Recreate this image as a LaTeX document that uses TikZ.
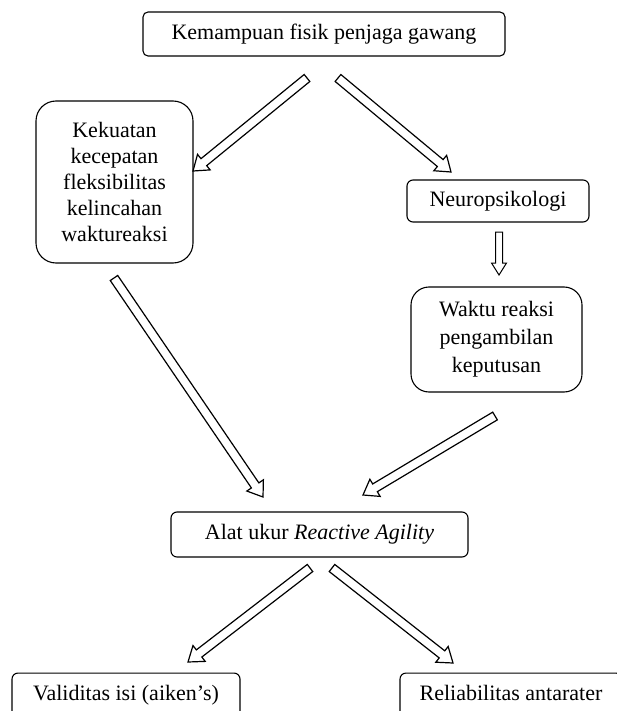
\documentclass[tikz,border=0pt]{standalone}
\usepackage{fontspec}
\setmainfont{Liberation Serif}
\usetikzlibrary{calc}
\tikzset{
  box/.style={draw, line width=1.1pt, fill=white, align=center, inner sep=0pt,
    font=\fontsize{22}{26}\selectfont},
  arrowline/.style={draw, line width=1.2pt, fill=white, line join=miter},
}
\newcommand\blockarr[2]{%
  \coordinate (hb) at ($(#2)!14pt!(#1)$);
  \draw[arrowline] ($(#1)!4.5pt!90:(#2)$) -- ($(hb)!4.5pt!90:(#2)$) -- ($(hb)!10pt!90:(#2)$)
    -- (#2) -- ($(hb)!10pt!-90:(#2)$) -- ($(hb)!4.5pt!-90:(#2)$) -- ($(#1)!4.5pt!-90:(#2)$) -- cycle;
}
\newcommand\smallarr[2]{%
  \coordinate (hb) at ($(#2)!12pt!(#1)$);
  \draw[arrowline, line width=1pt] ($(#1)!3.5pt!90:(#2)$) -- ($(hb)!3.5pt!90:(#2)$) -- ($(hb)!7.5pt!90:(#2)$)
    -- (#2) -- ($(hb)!7.5pt!-90:(#2)$) -- ($(hb)!3.5pt!-90:(#2)$) -- ($(#1)!3.5pt!-90:(#2)$) -- cycle;
}
\begin{document}
\begin{tikzpicture}[x=1pt, y=-1pt]
\useasboundingbox (0,0) rectangle (617,711);
\clip (0,0) rectangle (617,711);
\fill[white] (0,0) rectangle (617,711);

\node[box, rounded corners=5pt, minimum width=362pt, minimum height=44pt] (top) at (324,34)
  {Kemampuan fisik penjaga gawang};
\node[box, rounded corners=20pt, minimum width=157pt, minimum height=162pt] (left) at (114.5,182)
  {Kekuatan\\kecepatan\\fleksibilitas\\kelincahan\\waktureaksi};
\node[box, rounded corners=6pt, minimum width=182pt, minimum height=42pt] (neuro) at (498,201)
  {Neuropsikologi};
\node[box, rounded corners=18pt, minimum width=171pt, minimum height=105pt,
  font=\fontsize{22}{28}\selectfont] (waktu) at (496.5,339.5)
  {Waktu reaksi\\pengambilan\\keputusan};
\node[box, rounded corners=6pt, minimum width=297pt, minimum height=45pt] (alat) at (319.5,534.5)
  {Alat ukur \textit{Reactive Agility}};
\node[box, rounded corners=6pt, anchor=north, minimum width=228pt, text height=27pt, text depth=30pt] (valid) at (126,672.5)
  {Validitas isi (aiken's)};
\node[box, rounded corners=6pt, anchor=north, minimum width=222pt, text height=27pt, text depth=30pt] (reli) at (511,672.5)
  {Reliabilitas antarater};

\coordinate (a1s) at (307,78);  \coordinate (a1e) at (193,171);
\coordinate (a2s) at (338,78);  \coordinate (a2e) at (451,172);
\coordinate (a3s) at (499,232); \coordinate (a3e) at (499,275);
\coordinate (a4s) at (114,278); \coordinate (a4e) at (263,497);
\coordinate (a5s) at (495,416); \coordinate (a5e) at (363,495);
\coordinate (a6s) at (310,568); \coordinate (a6e) at (188,662);
\coordinate (a7s) at (332,568); \coordinate (a7e) at (453,663);

\blockarr{a1s}{a1e}
\blockarr{a2s}{a2e}
\smallarr{a3s}{a3e}
\blockarr{a4s}{a4e}
\blockarr{a5s}{a5e}
\blockarr{a6s}{a6e}
\blockarr{a7s}{a7e}
\end{tikzpicture}
\end{document}
